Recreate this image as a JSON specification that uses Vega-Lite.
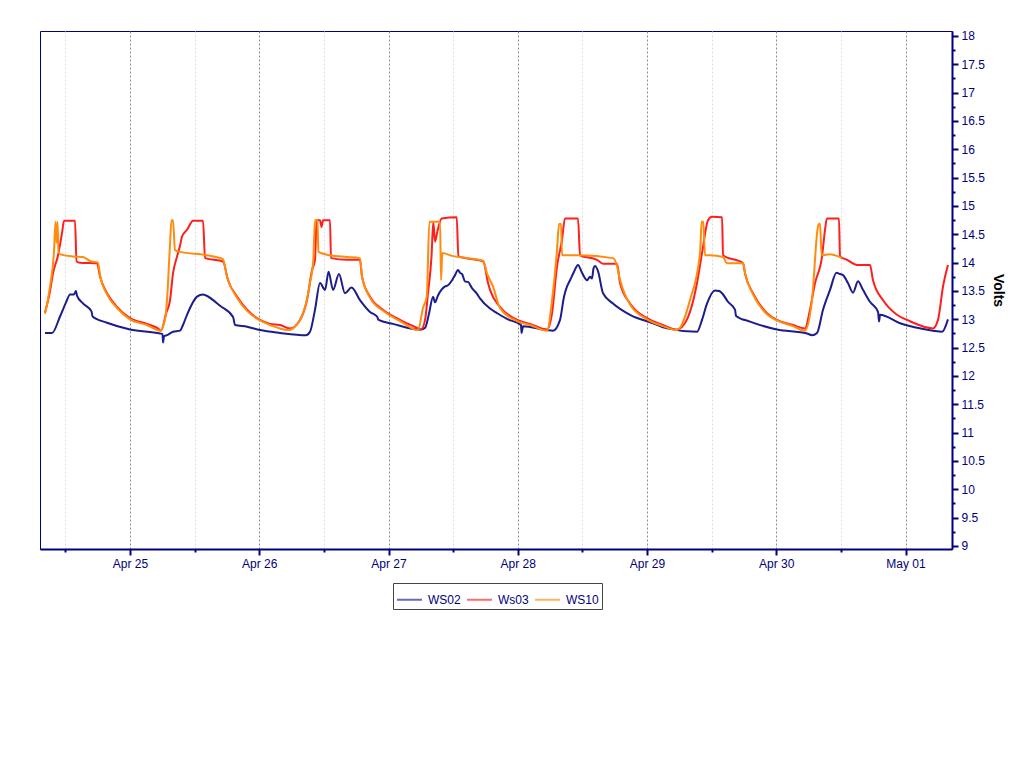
{
  "$schema": "https://vega.github.io/schema/vega-lite/v6.json",
  "width": 912,
  "height": 518,
  "autosize": "none",
  "padding": {"left": 40, "top": 31, "right": 72, "bottom": 219},
  "background": "white",
  "config": {
    "font": "Liberation Sans",
    "view": {"stroke": "#000080", "strokeWidth": 1}
  },
  "data": {"values": [
    {"t":"2019-04-24T08:13","s":"WS02","v":12.76},{"t":"2019-04-24T09:31","s":"WS02","v":12.76},{"t":"2019-04-24T11:00","s":"WS02","v":13.05},{"t":"2019-04-24T12:07","s":"WS02","v":13.30},{"t":"2019-04-24T12:52","s":"WS02","v":13.44},{"t":"2019-04-24T13:36","s":"WS02","v":13.44},{"t":"2019-04-24T13:58","s":"WS02","v":13.50},{"t":"2019-04-24T14:09","s":"WS02","v":13.42},{"t":"2019-04-24T15:16","s":"WS02","v":13.28},{"t":"2019-04-24T16:51","s":"WS02","v":13.14},{"t":"2019-04-24T17:02","s":"WS02","v":13.05},{"t":"2019-04-24T19:44","s":"WS02","v":12.94},{"t":"2019-04-25T00:00","s":"WS02","v":12.82},{"t":"2019-04-25T05:34","s":"WS02","v":12.75},{"t":"2019-04-25T06:02","s":"WS02","v":12.74},{"t":"2019-04-25T06:08","s":"WS02","v":12.59},{"t":"2019-04-25T06:19","s":"WS02","v":12.70},{"t":"2019-04-25T06:52","s":"WS02","v":12.72},{"t":"2019-04-25T07:59","s":"WS02","v":12.78},{"t":"2019-04-25T09:17","s":"WS02","v":12.80},{"t":"2019-04-25T09:50","s":"WS02","v":12.90},{"t":"2019-04-25T10:35","s":"WS02","v":13.08},{"t":"2019-04-25T12:26","s":"WS02","v":13.40},{"t":"2019-04-25T13:33","s":"WS02","v":13.44},{"t":"2019-04-25T14:07","s":"WS02","v":13.42},{"t":"2019-04-25T16:43","s":"WS02","v":13.24},{"t":"2019-04-25T19:08","s":"WS02","v":13.04},{"t":"2019-04-25T19:30","s":"WS02","v":12.90},{"t":"2019-04-25T21:44","s":"WS02","v":12.87},{"t":"2019-04-26T00:08","s":"WS02","v":12.81},{"t":"2019-04-26T03:51","s":"WS02","v":12.76},{"t":"2019-04-26T08:41","s":"WS02","v":12.72},{"t":"2019-04-26T09:25","s":"WS02","v":12.78},{"t":"2019-04-26T10:21","s":"WS02","v":13.17},{"t":"2019-04-26T11:17","s":"WS02","v":13.64},{"t":"2019-04-26T12:13","s":"WS02","v":13.52},{"t":"2019-04-26T12:52","s":"WS02","v":13.84},{"t":"2019-04-26T13:42","s":"WS02","v":13.52},{"t":"2019-04-26T14:48","s":"WS02","v":13.80},{"t":"2019-04-26T15:55","s":"WS02","v":13.46},{"t":"2019-04-26T17:08","s":"WS02","v":13.56},{"t":"2019-04-26T18:42","s":"WS02","v":13.34},{"t":"2019-04-26T20:34","s":"WS02","v":13.13},{"t":"2019-04-26T21:52","s":"WS02","v":13.05},{"t":"2019-04-26T22:09","s":"WS02","v":12.99},{"t":"2019-04-27T00:50","s":"WS02","v":12.92},{"t":"2019-04-27T05:51","s":"WS02","v":12.82},{"t":"2019-04-27T06:47","s":"WS02","v":12.85},{"t":"2019-04-27T07:31","s":"WS02","v":13.10},{"t":"2019-04-27T08:16","s":"WS02","v":13.40},{"t":"2019-04-27T08:38","s":"WS02","v":13.30},{"t":"2019-04-27T09:11","s":"WS02","v":13.42},{"t":"2019-04-27T10:30","s":"WS02","v":13.58},{"t":"2019-04-27T11:03","s":"WS02","v":13.60},{"t":"2019-04-27T11:48","s":"WS02","v":13.69},{"t":"2019-04-27T12:21","s":"WS02","v":13.78},{"t":"2019-04-27T12:54","s":"WS02","v":13.87},{"t":"2019-04-27T13:17","s":"WS02","v":13.82},{"t":"2019-04-27T13:39","s":"WS02","v":13.80},{"t":"2019-04-27T14:12","s":"WS02","v":13.67},{"t":"2019-04-27T14:46","s":"WS02","v":13.66},{"t":"2019-04-27T15:30","s":"WS02","v":13.55},{"t":"2019-04-27T16:26","s":"WS02","v":13.45},{"t":"2019-04-27T16:59","s":"WS02","v":13.37},{"t":"2019-04-27T18:51","s":"WS02","v":13.19},{"t":"2019-04-27T20:09","s":"WS02","v":13.11},{"t":"2019-04-27T22:11","s":"WS02","v":13.00},{"t":"2019-04-27T23:52","s":"WS02","v":12.94},{"t":"2019-04-28T00:36","s":"WS02","v":12.90},{"t":"2019-04-28T00:42","s":"WS02","v":12.76},{"t":"2019-04-28T00:59","s":"WS02","v":12.88},{"t":"2019-04-28T05:26","s":"WS02","v":12.81},{"t":"2019-04-28T06:33","s":"WS02","v":12.80},{"t":"2019-04-28T07:51","s":"WS02","v":12.99},{"t":"2019-04-28T08:35","s":"WS02","v":13.40},{"t":"2019-04-28T09:09","s":"WS02","v":13.58},{"t":"2019-04-28T09:42","s":"WS02","v":13.69},{"t":"2019-04-28T10:27","s":"WS02","v":13.84},{"t":"2019-04-28T11:11","s":"WS02","v":13.96},{"t":"2019-04-28T11:56","s":"WS02","v":13.82},{"t":"2019-04-28T12:52","s":"WS02","v":13.69},{"t":"2019-04-28T13:25","s":"WS02","v":13.75},{"t":"2019-04-28T13:47","s":"WS02","v":13.72},{"t":"2019-04-28T14:04","s":"WS02","v":13.90},{"t":"2019-04-28T14:21","s":"WS02","v":13.94},{"t":"2019-04-28T14:54","s":"WS02","v":13.85},{"t":"2019-04-28T15:50","s":"WS02","v":13.46},{"t":"2019-04-28T17:41","s":"WS02","v":13.28},{"t":"2019-04-28T20:51","s":"WS02","v":13.08},{"t":"2019-04-29T01:07","s":"WS02","v":12.93},{"t":"2019-04-29T03:43","s":"WS02","v":12.84},{"t":"2019-04-29T09:17","s":"WS02","v":12.78},{"t":"2019-04-29T10:13","s":"WS02","v":12.99},{"t":"2019-04-29T11:09","s":"WS02","v":13.28},{"t":"2019-04-29T12:38","s":"WS02","v":13.51},{"t":"2019-04-29T13:22","s":"WS02","v":13.50},{"t":"2019-04-29T13:56","s":"WS02","v":13.46},{"t":"2019-04-29T15:02","s":"WS02","v":13.31},{"t":"2019-04-29T16:20","s":"WS02","v":13.17},{"t":"2019-04-29T16:32","s":"WS02","v":13.06},{"t":"2019-04-29T19:07","s":"WS02","v":12.96},{"t":"2019-04-30T00:08","s":"WS02","v":12.82},{"t":"2019-04-30T05:43","s":"WS02","v":12.75},{"t":"2019-04-30T06:38","s":"WS02","v":12.72},{"t":"2019-04-30T07:34","s":"WS02","v":12.76},{"t":"2019-04-30T08:41","s":"WS02","v":13.17},{"t":"2019-04-30T09:59","s":"WS02","v":13.52},{"t":"2019-04-30T11:11","s":"WS02","v":13.82},{"t":"2019-04-30T11:50","s":"WS02","v":13.80},{"t":"2019-04-30T12:24","s":"WS02","v":13.78},{"t":"2019-04-30T13:19","s":"WS02","v":13.64},{"t":"2019-04-30T14:15","s":"WS02","v":13.47},{"t":"2019-04-30T15:11","s":"WS02","v":13.67},{"t":"2019-04-30T16:06","s":"WS02","v":13.52},{"t":"2019-04-30T17:24","s":"WS02","v":13.31},{"t":"2019-04-30T18:54","s":"WS02","v":13.13},{"t":"2019-04-30T19:05","s":"WS02","v":12.96},{"t":"2019-04-30T19:16","s":"WS02","v":13.08},{"t":"2019-04-30T22:59","s":"WS02","v":12.93},{"t":"2019-05-01T05:06","s":"WS02","v":12.80},{"t":"2019-05-01T06:47","s":"WS02","v":12.78},{"t":"2019-05-01T07:53","s":"WS02","v":13.00},

    {"t":"2019-04-24T08:13","s":"Ws03","v":13.12},{"t":"2019-04-24T09:09","s":"Ws03","v":13.50},{"t":"2019-04-24T09:42","s":"Ws03","v":13.81},{"t":"2019-04-24T10:38","s":"Ws03","v":14.13},{"t":"2019-04-24T11:22","s":"Ws03","v":14.52},{"t":"2019-04-24T11:45","s":"Ws03","v":14.74},{"t":"2019-04-24T13:47","s":"Ws03","v":14.74},{"t":"2019-04-24T14:04","s":"Ws03","v":14.02},{"t":"2019-04-24T14:43","s":"Ws03","v":14.00},{"t":"2019-04-24T17:52","s":"Ws03","v":13.99},{"t":"2019-04-24T18:26","s":"Ws03","v":13.75},{"t":"2019-04-24T19:44","s":"Ws03","v":13.46},{"t":"2019-04-24T21:35","s":"Ws03","v":13.22},{"t":"2019-04-25T00:00","s":"Ws03","v":13.02},{"t":"2019-04-25T03:09","s":"Ws03","v":12.92},{"t":"2019-04-25T05:12","s":"Ws03","v":12.84},{"t":"2019-04-25T05:45","s":"Ws03","v":12.80},{"t":"2019-04-25T06:41","s":"Ws03","v":13.10},{"t":"2019-04-25T07:26","s":"Ws03","v":13.34},{"t":"2019-04-25T07:59","s":"Ws03","v":13.81},{"t":"2019-04-25T08:44","s":"Ws03","v":14.11},{"t":"2019-04-25T09:17","s":"Ws03","v":14.30},{"t":"2019-04-25T09:39","s":"Ws03","v":14.46},{"t":"2019-04-25T10:35","s":"Ws03","v":14.58},{"t":"2019-04-25T11:42","s":"Ws03","v":14.74},{"t":"2019-04-25T13:33","s":"Ws03","v":14.74},{"t":"2019-04-25T13:56","s":"Ws03","v":14.08},{"t":"2019-04-25T17:16","s":"Ws03","v":14.02},{"t":"2019-04-25T18:12","s":"Ws03","v":13.69},{"t":"2019-04-25T19:52","s":"Ws03","v":13.40},{"t":"2019-04-25T21:44","s":"Ws03","v":13.17},{"t":"2019-04-26T00:08","s":"Ws03","v":12.99},{"t":"2019-04-26T02:00","s":"Ws03","v":12.92},{"t":"2019-04-26T03:51","s":"Ws03","v":12.90},{"t":"2019-04-26T05:43","s":"Ws03","v":12.84},{"t":"2019-04-26T07:34","s":"Ws03","v":12.99},{"t":"2019-04-26T08:52","s":"Ws03","v":13.34},{"t":"2019-04-26T09:48","s":"Ws03","v":13.87},{"t":"2019-04-26T10:21","s":"Ws03","v":14.05},{"t":"2019-04-26T10:38","s":"Ws03","v":14.75},{"t":"2019-04-26T11:17","s":"Ws03","v":14.75},{"t":"2019-04-26T11:34","s":"Ws03","v":14.63},{"t":"2019-04-26T11:50","s":"Ws03","v":14.75},{"t":"2019-04-26T13:08","s":"Ws03","v":14.75},{"t":"2019-04-26T13:19","s":"Ws03","v":14.08},{"t":"2019-04-26T16:18","s":"Ws03","v":14.05},{"t":"2019-04-26T18:42","s":"Ws03","v":14.05},{"t":"2019-04-26T19:05","s":"Ws03","v":13.75},{"t":"2019-04-26T20:34","s":"Ws03","v":13.40},{"t":"2019-04-26T22:59","s":"Ws03","v":13.17},{"t":"2019-04-27T02:08","s":"Ws03","v":12.99},{"t":"2019-04-27T05:18","s":"Ws03","v":12.85},{"t":"2019-04-27T06:02","s":"Ws03","v":12.82},{"t":"2019-04-27T06:47","s":"Ws03","v":12.99},{"t":"2019-04-27T07:20","s":"Ws03","v":13.46},{"t":"2019-04-27T07:59","s":"Ws03","v":14.11},{"t":"2019-04-27T08:19","s":"Ws03","v":14.72},{"t":"2019-04-27T08:38","s":"Ws03","v":14.37},{"t":"2019-04-27T09:04","s":"Ws03","v":14.55},{"t":"2019-04-27T09:53","s":"Ws03","v":14.78},{"t":"2019-04-27T12:40","s":"Ws03","v":14.80},{"t":"2019-04-27T12:58","s":"Ws03","v":14.11},{"t":"2019-04-27T15:41","s":"Ws03","v":14.06},{"t":"2019-04-27T17:36","s":"Ws03","v":14.02},{"t":"2019-04-27T18:29","s":"Ws03","v":13.64},{"t":"2019-04-27T18:51","s":"Ws03","v":13.52},{"t":"2019-04-27T20:42","s":"Ws03","v":13.22},{"t":"2019-04-27T23:52","s":"Ws03","v":12.99},{"t":"2019-04-28T02:17","s":"Ws03","v":12.92},{"t":"2019-04-28T05:26","s":"Ws03","v":12.82},{"t":"2019-04-28T06:22","s":"Ws03","v":13.11},{"t":"2019-04-28T07:17","s":"Ws03","v":13.93},{"t":"2019-04-28T08:13","s":"Ws03","v":14.40},{"t":"2019-04-28T08:46","s":"Ws03","v":14.78},{"t":"2019-04-28T11:11","s":"Ws03","v":14.78},{"t":"2019-04-28T11:34","s":"Ws03","v":14.13},{"t":"2019-04-28T14:43","s":"Ws03","v":14.05},{"t":"2019-04-28T15:50","s":"Ws03","v":13.98},{"t":"2019-04-28T18:26","s":"Ws03","v":13.98},{"t":"2019-04-28T18:59","s":"Ws03","v":13.64},{"t":"2019-04-28T20:51","s":"Ws03","v":13.28},{"t":"2019-04-29T00:00","s":"Ws03","v":13.02},{"t":"2019-04-29T02:58","s":"Ws03","v":12.90},{"t":"2019-04-29T05:34","s":"Ws03","v":12.82},{"t":"2019-04-29T07:26","s":"Ws03","v":13.00},{"t":"2019-04-29T09:17","s":"Ws03","v":13.64},{"t":"2019-04-29T10:13","s":"Ws03","v":14.17},{"t":"2019-04-29T11:20","s":"Ws03","v":14.75},{"t":"2019-04-29T12:04","s":"Ws03","v":14.81},{"t":"2019-04-29T13:56","s":"Ws03","v":14.80},{"t":"2019-04-29T14:07","s":"Ws03","v":14.13},{"t":"2019-04-29T17:50","s":"Ws03","v":13.99},{"t":"2019-04-29T18:12","s":"Ws03","v":13.81},{"t":"2019-04-29T19:41","s":"Ws03","v":13.46},{"t":"2019-04-29T22:17","s":"Ws03","v":13.11},{"t":"2019-04-30T00:08","s":"Ws03","v":12.99},{"t":"2019-04-30T03:07","s":"Ws03","v":12.90},{"t":"2019-04-30T05:20","s":"Ws03","v":12.84},{"t":"2019-04-30T06:16","s":"Ws03","v":13.17},{"t":"2019-04-30T07:12","s":"Ws03","v":13.64},{"t":"2019-04-30T08:30","s":"Ws03","v":14.11},{"t":"2019-04-30T09:03","s":"Ws03","v":14.58},{"t":"2019-04-30T09:25","s":"Ws03","v":14.78},{"t":"2019-04-30T11:39","s":"Ws03","v":14.78},{"t":"2019-04-30T11:50","s":"Ws03","v":14.11},{"t":"2019-04-30T13:08","s":"Ws03","v":14.05},{"t":"2019-04-30T15:00","s":"Ws03","v":13.96},{"t":"2019-04-30T17:24","s":"Ws03","v":13.96},{"t":"2019-04-30T17:58","s":"Ws03","v":13.69},{"t":"2019-04-30T19:49","s":"Ws03","v":13.34},{"t":"2019-04-30T22:25","s":"Ws03","v":13.08},{"t":"2019-05-01T00:17","s":"Ws03","v":12.99},{"t":"2019-05-01T05:06","s":"Ws03","v":12.84},{"t":"2019-05-01T06:02","s":"Ws03","v":12.99},{"t":"2019-05-01T06:58","s":"Ws03","v":13.58},{"t":"2019-05-01T07:53","s":"Ws03","v":13.96},

    {"t":"2019-04-24T08:13","s":"WS10","v":13.10},{"t":"2019-04-24T09:09","s":"WS10","v":13.58},{"t":"2019-04-24T09:53","s":"WS10","v":14.20},{"t":"2019-04-24T10:10","s":"WS10","v":14.72},{"t":"2019-04-24T10:21","s":"WS10","v":14.35},{"t":"2019-04-24T10:32","s":"WS10","v":14.72},{"t":"2019-04-24T10:43","s":"WS10","v":14.20},{"t":"2019-04-24T11:00","s":"WS10","v":14.15},{"t":"2019-04-24T13:25","s":"WS10","v":14.11},{"t":"2019-04-24T15:16","s":"WS10","v":14.10},{"t":"2019-04-24T16:34","s":"WS10","v":14.03},{"t":"2019-04-24T18:03","s":"WS10","v":14.00},{"t":"2019-04-24T18:26","s":"WS10","v":13.78},{"t":"2019-04-24T19:44","s":"WS10","v":13.44},{"t":"2019-04-24T21:35","s":"WS10","v":13.20},{"t":"2019-04-25T00:00","s":"WS10","v":13.00},{"t":"2019-04-25T03:09","s":"WS10","v":12.90},{"t":"2019-04-25T05:34","s":"WS10","v":12.80},{"t":"2019-04-25T06:30","s":"WS10","v":13.00},{"t":"2019-04-25T06:52","s":"WS10","v":13.34},{"t":"2019-04-25T07:26","s":"WS10","v":14.34},{"t":"2019-04-25T07:42","s":"WS10","v":14.75},{"t":"2019-04-25T07:59","s":"WS10","v":14.75},{"t":"2019-04-25T08:21","s":"WS10","v":14.22},{"t":"2019-04-25T09:17","s":"WS10","v":14.19},{"t":"2019-04-25T14:18","s":"WS10","v":14.13},{"t":"2019-04-25T17:16","s":"WS10","v":14.06},{"t":"2019-04-25T18:01","s":"WS10","v":13.75},{"t":"2019-04-25T19:52","s":"WS10","v":13.38},{"t":"2019-04-25T21:44","s":"WS10","v":13.15},{"t":"2019-04-26T00:08","s":"WS10","v":12.98},{"t":"2019-04-26T02:00","s":"WS10","v":12.90},{"t":"2019-04-26T05:20","s":"WS10","v":12.81},{"t":"2019-04-26T07:34","s":"WS10","v":12.99},{"t":"2019-04-26T09:25","s":"WS10","v":13.64},{"t":"2019-04-26T10:02","s":"WS10","v":14.05},{"t":"2019-04-26T10:21","s":"WS10","v":14.75},{"t":"2019-04-26T10:49","s":"WS10","v":14.75},{"t":"2019-04-26T10:58","s":"WS10","v":14.19},{"t":"2019-04-26T13:08","s":"WS10","v":14.13},{"t":"2019-04-26T16:18","s":"WS10","v":14.10},{"t":"2019-04-26T18:42","s":"WS10","v":14.08},{"t":"2019-04-26T19:05","s":"WS10","v":13.75},{"t":"2019-04-26T20:34","s":"WS10","v":13.38},{"t":"2019-04-26T22:59","s":"WS10","v":13.15},{"t":"2019-04-27T02:08","s":"WS10","v":12.97},{"t":"2019-04-27T05:29","s":"WS10","v":12.81},{"t":"2019-04-27T06:24","s":"WS10","v":13.20},{"t":"2019-04-27T07:06","s":"WS10","v":13.40},{"t":"2019-04-27T07:35","s":"WS10","v":14.72},{"t":"2019-04-27T09:34","s":"WS10","v":14.72},{"t":"2019-04-27T09:45","s":"WS10","v":13.69},{"t":"2019-04-27T09:59","s":"WS10","v":14.17},{"t":"2019-04-27T11:48","s":"WS10","v":14.12},{"t":"2019-04-27T14:35","s":"WS10","v":14.08},{"t":"2019-04-27T17:36","s":"WS10","v":14.03},{"t":"2019-04-27T18:17","s":"WS10","v":13.81},{"t":"2019-04-27T19:24","s":"WS10","v":13.58},{"t":"2019-04-27T20:42","s":"WS10","v":13.20},{"t":"2019-04-27T23:52","s":"WS10","v":12.97},{"t":"2019-04-28T02:17","s":"WS10","v":12.90},{"t":"2019-04-28T05:26","s":"WS10","v":12.80},{"t":"2019-04-28T06:22","s":"WS10","v":13.34},{"t":"2019-04-28T07:17","s":"WS10","v":14.22},{"t":"2019-04-28T07:40","s":"WS10","v":14.68},{"t":"2019-04-28T08:02","s":"WS10","v":14.68},{"t":"2019-04-28T08:13","s":"WS10","v":14.13},{"t":"2019-04-28T11:34","s":"WS10","v":14.13},{"t":"2019-04-28T17:41","s":"WS10","v":14.08},{"t":"2019-04-28T18:15","s":"WS10","v":14.00},{"t":"2019-04-28T18:59","s":"WS10","v":13.70},{"t":"2019-04-28T20:51","s":"WS10","v":13.26},{"t":"2019-04-29T00:00","s":"WS10","v":13.00},{"t":"2019-04-29T02:58","s":"WS10","v":12.88},{"t":"2019-04-29T05:34","s":"WS10","v":12.81},{"t":"2019-04-29T07:59","s":"WS10","v":13.34},{"t":"2019-04-29T09:51","s":"WS10","v":14.17},{"t":"2019-04-29T10:09","s":"WS10","v":14.72},{"t":"2019-04-29T10:27","s":"WS10","v":14.72},{"t":"2019-04-29T10:46","s":"WS10","v":14.13},{"t":"2019-04-29T11:42","s":"WS10","v":14.13},{"t":"2019-04-29T14:07","s":"WS10","v":14.10},{"t":"2019-04-29T14:51","s":"WS10","v":13.99},{"t":"2019-04-29T17:50","s":"WS10","v":13.99},{"t":"2019-04-29T18:17","s":"WS10","v":13.78},{"t":"2019-04-29T19:41","s":"WS10","v":13.44},{"t":"2019-04-29T22:17","s":"WS10","v":13.09},{"t":"2019-04-30T00:08","s":"WS10","v":12.98},{"t":"2019-04-30T03:07","s":"WS10","v":12.88},{"t":"2019-04-30T05:20","s":"WS10","v":12.80},{"t":"2019-04-30T06:38","s":"WS10","v":13.34},{"t":"2019-04-30T07:48","s":"WS10","v":14.66},{"t":"2019-04-30T08:07","s":"WS10","v":14.69},{"t":"2019-04-30T08:26","s":"WS10","v":14.13},{"t":"2019-04-30T09:59","s":"WS10","v":14.15},{"t":"2019-04-30T11:17","s":"WS10","v":14.12},{"t":"2019-04-30T12:12","s":"WS10","v":14.08}
  ]},
  "mark": {"type": "line", "strokeWidth": 2, "interpolate": "monotone"},
  "encoding": {
    "x": {
      "field": "t",
      "type": "temporal",
      "scale": {"domain": [
        {"year": 2019, "month": 4, "date": 24, "hours": 7, "minutes": 17},
        {"year": 2019, "month": 5, "date": 1, "hours": 8, "minutes": 38}
      ]},
      "axis": {
        "title": null,
        "values": [
          {"year": 2019, "month": 4, "date": 24, "hours": 12},
          {"year": 2019, "month": 4, "date": 25, "hours": 0},
          {"year": 2019, "month": 4, "date": 25, "hours": 12},
          {"year": 2019, "month": 4, "date": 26, "hours": 0},
          {"year": 2019, "month": 4, "date": 26, "hours": 12},
          {"year": 2019, "month": 4, "date": 27, "hours": 0},
          {"year": 2019, "month": 4, "date": 27, "hours": 12},
          {"year": 2019, "month": 4, "date": 28, "hours": 0},
          {"year": 2019, "month": 4, "date": 28, "hours": 12},
          {"year": 2019, "month": 4, "date": 29, "hours": 0},
          {"year": 2019, "month": 4, "date": 29, "hours": 12},
          {"year": 2019, "month": 4, "date": 30, "hours": 0},
          {"year": 2019, "month": 4, "date": 30, "hours": 12},
          {"year": 2019, "month": 5, "date": 1, "hours": 0}
        ],
        "format": "%b %d",
        "labelExpr": "hours(datum.value) === 0 ? datum.label : ''",
        "labelOverlap": false,
        "labelFlush": false,
        "labelColor": "#000080",
        "labelFontSize": 12,
        "labelPadding": 3,
        "grid": true,
        "gridDash": [2, 2],
        "gridWidth": 1,
        "gridColor": {"condition": {"test": "hours(datum.value) === 0", "value": "#8a8a8a"}, "value": "#dddddd"},
        "tickSize": {"condition": {"test": "hours(datum.value) === 0", "value": 6}, "value": 3},
        "tickColor": "#000080",
        "tickWidth": 2,
        "domainColor": "#000080",
        "domainWidth": 2
      }
    },
    "y": {
      "field": "v",
      "type": "quantitative",
      "scale": {"domain": [8.947, 18.088], "nice": false, "zero": false},
      "axis": {
        "orient": "right",
        "title": "Volts",
        "titleColor": "black",
        "titleFontSize": 14,
        "titleFontWeight": "bold",
        "titlePadding": 6,
        "values": [9, 9.25, 9.5, 9.75, 10, 10.25, 10.5, 10.75, 11, 11.25, 11.5, 11.75, 12, 12.25, 12.5, 12.75, 13, 13.25, 13.5, 13.75, 14, 14.25, 14.5, 14.75, 15, 15.25, 15.5, 15.75, 16, 16.25, 16.5, 16.75, 17, 17.25, 17.5, 17.75, 18],
        "format": "~g",
        "labelExpr": "datum.value % 0.5 === 0 ? datum.label : ''",
        "labelOverlap": false,
        "labelFlush": false,
        "labelColor": "#000080",
        "labelFontSize": 12,
        "labelPadding": 3,
        "grid": false,
        "tickSize": {"condition": {"test": "datum.value % 0.5 === 0", "value": 6}, "value": 3},
        "tickColor": "#000080",
        "tickWidth": 2,
        "domainColor": "#000080",
        "domainWidth": 2
      }
    },
    "color": {
      "field": "s",
      "type": "nominal",
      "scale": {"domain": ["WS02", "Ws03", "WS10"], "range": ["#1c1c8c", "#ff1e1e", "#ff8c0c"]},
      "legend": {
        "orient": "none",
        "legendX": 353,
        "legendY": 552,
        "direction": "horizontal",
        "title": null,
        "symbolType": "stroke",
        "symbolSize": 625,
        "symbolStrokeWidth": 2,
        "symbolOpacity": 0.65,
        "labelColor": "#000080",
        "labelFontSize": 12,
        "labelOffset": 5,
        "columnPadding": 2,
        "strokeColor": "#444444",
        "padding": 3
      }
    }
  }
}
